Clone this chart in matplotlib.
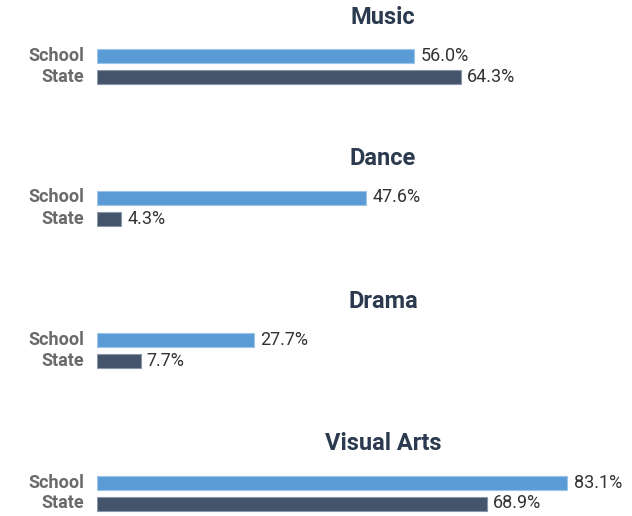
import matplotlib
matplotlib.use("Agg")
import matplotlib.pyplot as plt

categories = ["Music", "Dance", "Drama", "Visual Arts"]
series_names = ["School", "State"]
school = [56.0, 47.6, 27.7, 83.1]
state = [64.3, 4.3, 7.7, 68.9]

colors = ["#5b9bd5", "#44546a"]
edge_colors = ["#9cc3e8", "#8a96a8"]

plt.rcParams['font.family'] = ['Roboto', 'DejaVu Sans']

W, H = 632, 516
fig = plt.figure(figsize=(W / 100, H / 100), dpi=100)

left_px = 97
px_per_unit = 5.66
right_px = W
xmax = (right_px - left_px) / px_per_unit

school_centers = [56.5, 197.5, 340, 482.5]
row_gap = 21
title_offset = 39
title_x_px = 383

for i, cat in enumerate(categories):
    top = school_centers[i] - row_gap / 2
    bottom = school_centers[i] + row_gap + row_gap / 2
    ax = fig.add_axes([left_px / W, 1 - bottom / H, (right_px - left_px) / W, (bottom - top) / H])
    vals = [school[i], state[i]]
    ys = [0, 1]
    ax.barh(ys, vals, height=14 / 21, color=colors, edgecolor=edge_colors, linewidth=0.8)
    ax.set_xlim(0, xmax)
    ax.set_ylim(1.5, -0.5)
    ax.axis("off")
    for y, v in zip(ys, vals):
        ax.annotate(f"{v:.1f}%", xy=(v, y), xytext=(4.5, 0), textcoords="offset points",
                    ha="left", va="center", fontsize=13, color="#333333")
    for y, name in zip(ys, series_names):
        ax.annotate(name, xy=(0, y), xytext=(-9.5, 0), textcoords="offset points",
                    ha="right", va="center", fontsize=13, fontweight="bold", color="#6a6a6a")
    fig.text(title_x_px / W, 1 - (school_centers[i] - title_offset) / H, cat,
             ha="center", va="center", fontsize=17, fontweight="bold", color="#2b3a4e")

fig.savefig("out.png", dpi=100)
